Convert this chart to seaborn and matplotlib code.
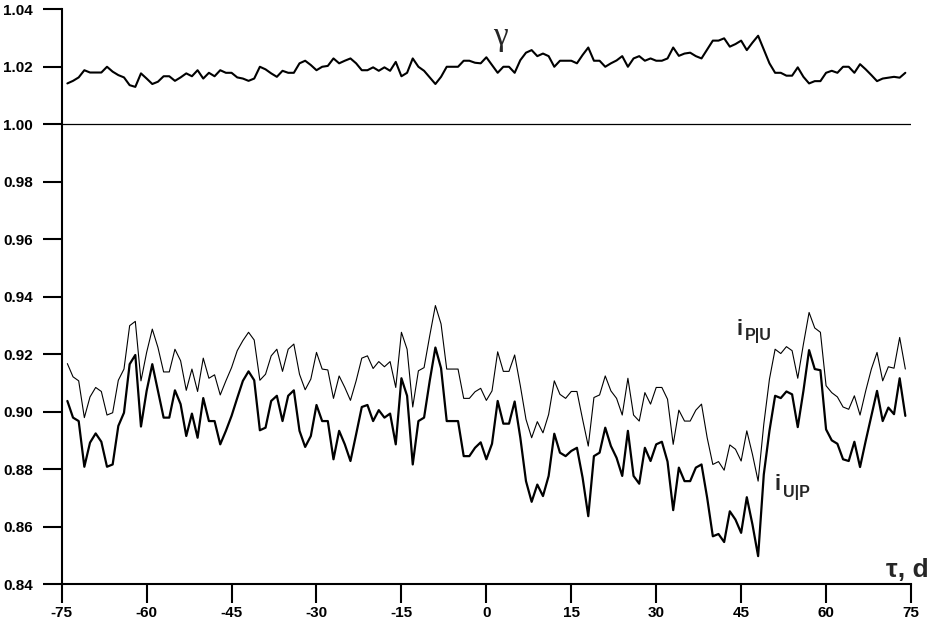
import numpy as np
import pandas as pd
import matplotlib
matplotlib.use("Agg")
import matplotlib.pyplot as plt
from matplotlib.ticker import FormatStrFormatter
import seaborn as sns

# lag in days
days = np.arange(-74, 75)

gamma = [1.0142, 1.0151, 1.0163, 1.0188, 1.0180, 1.0180, 1.0180, 1.0200, 1.0183, 1.0171,
         1.0163, 1.0136, 1.0130, 1.0177, 1.0159, 1.0140, 1.0148, 1.0167, 1.0167, 1.0151,
         1.0163, 1.0177, 1.0167, 1.0188, 1.0159, 1.0179, 1.0167, 1.0188, 1.0179, 1.0179,
         1.0163, 1.0159, 1.0151, 1.0159, 1.0200, 1.0191, 1.0177, 1.0165, 1.0186, 1.0179,
         1.0179, 1.0212, 1.0221, 1.0206, 1.0188, 1.0200, 1.0203,
         1.0229, 1.0212, 1.0221, 1.0229, 1.0212, 1.0188, 1.0188, 1.0198, 1.0186, 1.0198,
         1.0186, 1.0217, 1.0167, 1.0179, 1.0229, 1.0200, 1.0186, 1.0163, 1.0140, 1.0165,
         1.0200, 1.0200, 1.0200, 1.0221, 1.0221, 1.0214, 1.0212, 1.0233, 1.0206, 1.0179,
         1.0200, 1.0200, 1.0179, 1.0223, 1.0249, 1.0258, 1.0237, 1.0246, 1.0237, 1.0200,
         1.0221, 1.0221, 1.0221, 1.0212, 1.0241, 1.0267, 1.0221, 1.0221, 1.0200, 1.0212,
         1.0222, 1.0237, 1.0200, 1.0229, 1.0237, 1.0221, 1.0229, 1.0221, 1.0221, 1.0229,
         1.0267, 1.0238, 1.0246, 1.0249, 1.0237, 1.0229, 1.0260, 1.0291, 1.0291, 1.0299,
         1.0270, 1.0279, 1.0291, 1.0258, 1.0284, 1.0308, 1.0260, 1.0212, 1.0179, 1.0179,
         1.0169, 1.0169, 1.0198, 1.0165, 1.0142, 1.0150, 1.0150, 1.0179, 1.0186, 1.0179,
         1.0200, 1.0200, 1.0179, 1.0209, 1.0191, 1.0171, 1.0150, 1.0159, 1.0162, 1.0165,
         1.0162, 1.0179]

i_pu = [0.9167, 0.9121, 0.9107, 0.8979, 0.9051, 0.9084, 0.9070, 0.8988, 0.8996, 0.9109,
        0.9148, 0.9299, 0.9314, 0.9107, 0.9206, 0.9287, 0.9223, 0.9138, 0.9138, 0.9217,
        0.9177, 0.9074, 0.9148, 0.9070, 0.9186, 0.9116, 0.9128, 0.9058, 0.9107, 0.9153,
        0.9212, 0.9247, 0.9276, 0.9249,
        0.9109, 0.9130, 0.9194, 0.9217, 0.9140, 0.9217, 0.9235, 0.9130, 0.9076, 0.9113,
        0.9206, 0.9148, 0.9145, 0.9046, 0.9124, 0.9084, 0.9039, 0.9107, 0.9186, 0.9194,
        0.9150, 0.9174, 0.9156, 0.9174, 0.9084, 0.9276, 0.9217, 0.9016, 0.9142, 0.9153,
        0.9264, 0.9369, 0.9305, 0.9148, 0.9148, 0.9148, 0.9046, 0.9046, 0.9069, 0.9081,
        0.9039, 0.9072, 0.9208, 0.9140, 0.9140, 0.9197, 0.9090, 0.8973, 0.8909, 0.8965,
        0.8926, 0.8990, 0.9107, 0.9060, 0.9046, 0.9070, 0.9070, 0.8973, 0.8880, 0.9049,
        0.9058, 0.9124, 0.9072, 0.9046, 0.8988, 0.9116, 0.8988, 0.8967, 0.9066, 0.9026,
        0.9084, 0.9084, 0.9043, 0.8886, 0.9005, 0.8967, 0.8967, 0.9005,
        0.9026, 0.8909, 0.8816, 0.8826, 0.8796, 0.8884, 0.8869, 0.8828, 0.8933, 0.8851,
        0.8758, 0.8956, 0.9113, 0.9217, 0.9202, 0.9226, 0.9212, 0.9116, 0.9235, 0.9345,
        0.9291, 0.9276, 0.9090, 0.9066, 0.9051, 0.9016, 0.9008, 0.9055, 0.8988, 0.9072,
        0.9148, 0.9206, 0.9107, 0.9156, 0.9151, 0.9258, 0.9148]

i_up = [0.9037, 0.8979, 0.8967, 0.8808, 0.8892, 0.8924, 0.8895, 0.8808, 0.8816, 0.8950,
        0.8996, 0.9165, 0.9197, 0.8948, 0.9072, 0.9165, 0.9072, 0.8979, 0.8979, 0.9074,
        0.9026, 0.8915, 0.8993, 0.8909, 0.9047, 0.8967, 0.8967, 0.8886, 0.8933, 0.8985,
        0.9047, 0.9107, 0.9140, 0.9109,
        0.8935, 0.8944, 0.9037, 0.9055, 0.8967, 0.9055, 0.9074, 0.8933, 0.8877, 0.8915,
        0.9023, 0.8967, 0.8967, 0.8834, 0.8933, 0.8886, 0.8828, 0.8921, 0.9016, 0.9023,
        0.8967, 0.9005, 0.8979, 0.8993, 0.8886, 0.9116, 0.9055, 0.8816, 0.8967, 0.8979,
        0.9107, 0.9223, 0.9151, 0.8967, 0.8967, 0.8967, 0.8845, 0.8845, 0.8874, 0.8893,
        0.8834, 0.8888, 0.9037, 0.8958, 0.8958, 0.9035, 0.8909, 0.8758, 0.8686, 0.8746,
        0.8706, 0.8776, 0.8923, 0.8857, 0.8845, 0.8863, 0.8874, 0.8770, 0.8636, 0.8845,
        0.8857, 0.8944, 0.8880, 0.8839, 0.8776, 0.8933, 0.8776, 0.8749, 0.8874, 0.8828,
        0.8886, 0.8895, 0.8826, 0.8657, 0.8805, 0.8758, 0.8758, 0.8805,
        0.8816, 0.8700, 0.8566, 0.8574, 0.8546, 0.8653, 0.8624, 0.8578, 0.8702, 0.8607,
        0.8497, 0.8781, 0.8933, 0.9055, 0.9047, 0.9070, 0.9060, 0.8946, 0.9072, 0.9214,
        0.9148, 0.9144, 0.8938, 0.8900, 0.8888, 0.8834, 0.8828, 0.8895, 0.8807, 0.8898,
        0.8985, 0.9072, 0.8967, 0.9014, 0.8991, 0.9116, 0.8985]

x_ticks = list(range(-75, 76, 15))
y_ticks = [0.84, 0.86, 0.88, 0.90, 0.92, 0.94, 0.96, 0.98, 1.00, 1.02, 1.04]

sns.set_style("white")
plt.rcParams["font.family"] = ["Liberation Sans", "DejaVu Sans"]
plt.rcParams["font.weight"] = "bold"
plt.rcParams["axes.unicode_minus"] = False

df = pd.DataFrame({"tau": days, "gamma": gamma, "i_pu": i_pu, "i_up": i_up})

W, H = 932, 633
fig = plt.figure(figsize=(W / 100, H / 100), dpi=100)
ax = fig.add_axes([61.7 / W, 1 - 584 / H, (911 - 61.7) / W, (584 - 9.3) / H])

sns.lineplot(data=df, x="tau", y="gamma", ax=ax, color="black", lw=1.5)
sns.lineplot(data=df, x="tau", y="i_pu", ax=ax, color="black", lw=0.8)
sns.lineplot(data=df, x="tau", y="i_up", ax=ax, color="black", lw=1.6)
ax.axhline(1.0, color="black", lw=0.9)

ax.set_xlim(-75, 75)
ax.set_ylim(0.84, 1.04)
ax.set_xticks(x_ticks)
ax.set_yticks(y_ticks)
ax.yaxis.set_major_formatter(FormatStrFormatter("%.2f"))
ax.set_xlabel("")
ax.set_ylabel("")
for s in ["top", "right"]:
    ax.spines[s].set_visible(False)
for s in ["left", "bottom"]:
    ax.spines[s].set_linewidth(1.5)
    ax.spines[s].set_color("black")
ax.tick_params(axis="both", direction="out", length=13.5, width=1.5,
               colors="black", labelsize=11, bottom=True, left=True)
ax.tick_params(axis="y", pad=7)
ax.tick_params(axis="x", pad=2)
for lbl in ax.get_xticklabels() + ax.get_yticklabels():
    lbl.set_fontweight("bold")

def px(x, y):
    return x / W, 1 - y / H

fig.text(*px(500, 45), "γ", family=["Liberation Serif", "DejaVu Serif"],
         fontsize=24, ha="center", va="baseline", fontweight="normal")
fig.text(*px(736, 335), "i", fontsize=16, fontweight="bold", va="baseline")
fig.text(*px(745, 340), "P|U", fontsize=11.5, fontweight="bold", va="baseline")
fig.text(*px(774, 490), "i", fontsize=16, fontweight="bold", va="baseline")
fig.text(*px(783, 497), "U|P", fontsize=11.5, fontweight="bold", va="baseline")
fig.text(*px(929, 577), "τ, d", fontsize=19, fontweight="bold", ha="right", va="baseline")

fig.savefig("out.png", dpi=100)
